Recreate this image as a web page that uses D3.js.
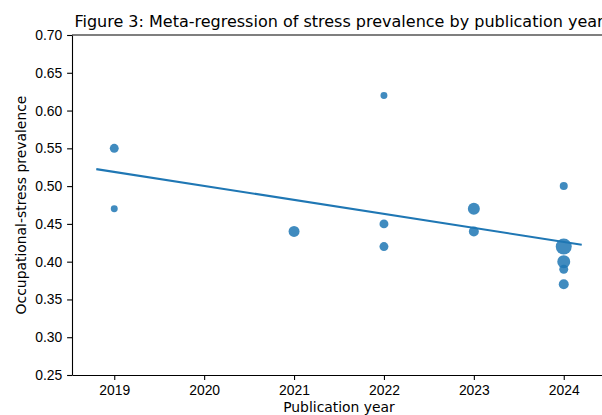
<!DOCTYPE html>
<html>
<head>
<meta charset="utf-8">
<script src="https://cdn.jsdelivr.net/npm/d3@7"></script>
<style>
    html, body { margin: 0; padding: 0; background: #fff; }
    svg { display: block; font-family: "DejaVu Sans", sans-serif; }
    .axis text { font-size: 13.9px; fill: #000; }
    .axis path, .axis line { stroke: #000; stroke-width: 1.1px; }
</style>
</head>
<body>
<div id="chart"></div>
<script>
/*
 * Study data: publication year, prevalence and weight (sample size).
 */
var years       = [2019, 2019, 2021, 2022, 2022, 2022, 2023, 2023, 2024, 2024, 2024, 2024, 2024];
var prevalence  = [0.55, 0.47, 0.44, 0.62, 0.45, 0.42, 0.47, 0.44, 0.50, 0.42, 0.40, 0.39, 0.37];
var weights     = [200,  120,  300,  120,  200,  200,  360,  250,  160,  640,  420,  200,  250];
/*
 * Fitted meta-regression line end points.
 */
var fitYears    = [2018.8, 2024.2];
var fitValues   = [0.5225, 0.4225];
/*
 * Tick labels.
 */
var xTicks      = [2019, 2020, 2021, 2022, 2023, 2024];
var yTicks      = [0.25, 0.30, 0.35, 0.40, 0.45, 0.50, 0.55, 0.60, 0.65, 0.70];

var width  = 602,
    height = 415,
    margin = {top: 35, right: -4, bottom: 40, left: 72};

var svg = d3.select('#chart').append('svg')
    .attr('width', width)
    .attr('height', height);

var x = d3.scaleLinear()
    .domain([2018.53, 2024.47])
    .range([margin.left, width - margin.right]);

var y = d3.scaleLinear()
    .domain([0.25, 0.70])
    .range([height - margin.bottom, margin.top]);

var r = d3.scaleSqrt()
    .domain([0, 640])
    .range([0, 8]);

/*
 * Axes.
 */
svg.append('g')
    .attr('class', 'axis')
    .attr('transform', 'translate(0,' + y.range()[0] + ')')
    .call(d3.axisBottom(x)
        .tickValues(xTicks)
        .tickFormat(d3.format('d'))
        .tickSizeInner(4.9)
        .tickSizeOuter(0)
        .tickPadding(4.9));

svg.append('g')
    .attr('class', 'axis')
    .attr('transform', 'translate(' + margin.left + ',0)')
    .call(d3.axisLeft(y)
        .tickValues(yTicks)
        .tickFormat(d3.format('.2f'))
        .tickSizeInner(4.9)
        .tickSizeOuter(0)
        .tickPadding(4.9));

/*
 * Top spine.
 */
svg.append('line')
    .attr('x1', x.range()[0])
    .attr('x2', x.range()[1])
    .attr('y1', y.range()[1])
    .attr('y2', y.range()[1])
    .attr('stroke', '#000')
    .attr('stroke-width', 1.1);

/*
 * Points.
 */
svg.append('g')
    .selectAll('circle')
    .data(years.map(function(d, i) {
        return {year: d, value: prevalence[i], n: weights[i]};
    }))
    .enter()
    .append('circle')
    .attr('cx', d => x(d.year))
    .attr('cy', d => y(d.value))
    .attr('r', d => r(d.n))
    .attr('fill', '#1f77b4')
    .attr('fill-opacity', 0.85);

/*
 * Regression line.
 */
svg.append('path')
    .datum(fitYears.map(function(d, i) {
        return {year: d, value: fitValues[i]};
    }))
    .attr('fill', 'none')
    .attr('stroke', '#1f77b4')
    .attr('stroke-width', 2.08)
    .attr('d', d3.line().x(d => x(d.year)).y(d => y(d.value)));

/*
 * Title and axis labels.
 */
var cx = (x.range()[0] + x.range()[1]) / 2;

svg.append('text')
    .attr('x', cx)
    .attr('y', margin.top - 8)
    .attr('text-anchor', 'middle')
    .style('font-size', '16px')
    .text('Figure 3: Meta-regression of stress prevalence by publication year');

svg.append('text')
    .attr('x', cx)
    .attr('y', height - 3)
    .attr('text-anchor', 'middle')
    .style('font-size', '13.9px')
    .text('Publication year');

svg.append('text')
    .attr('transform', 'translate(26,' + (y.range()[0] + y.range()[1]) / 2 + ') rotate(-90)')
    .attr('text-anchor', 'middle')
    .style('font-size', '13.9px')
    .text('Occupational-stress prevalence');
</script>
</body>
</html>
